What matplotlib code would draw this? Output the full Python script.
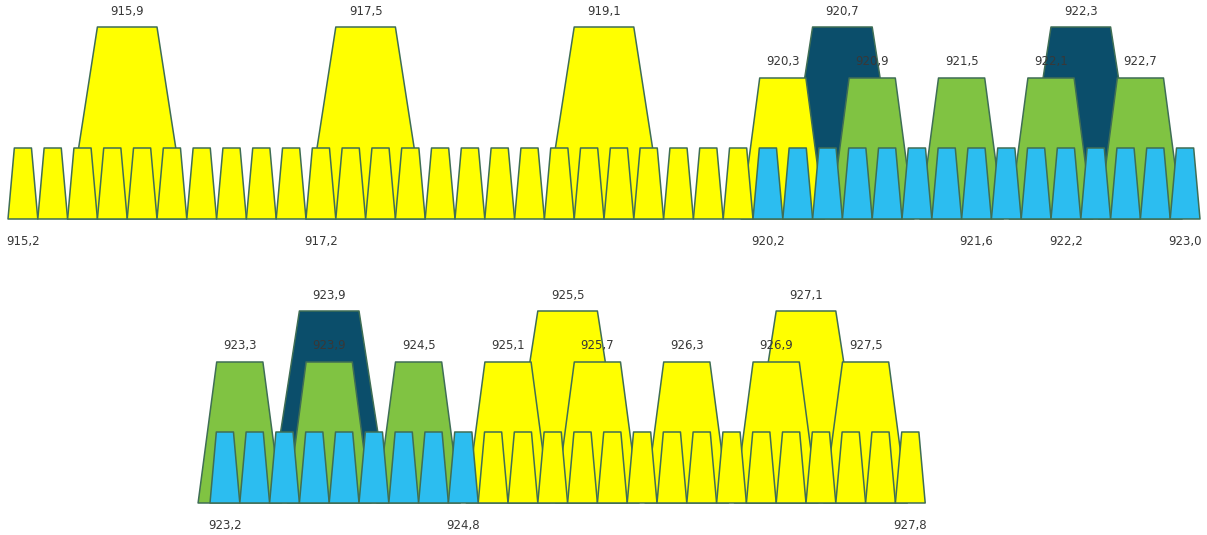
import matplotlib
matplotlib.use('Agg')
import matplotlib.pyplot as plt

# channel centre frequencies in MHz
narrow_yellow_low = [915.2, 915.4, 915.6, 915.8, 916.0, 916.2, 916.4, 916.6, 916.8, 917.0,
                     917.2, 917.4, 917.6, 917.8, 918.0, 918.2, 918.4, 918.6, 918.8, 919.0,
                     919.2, 919.4, 919.6, 919.8, 920.0]
narrow_blue = [920.2, 920.4, 920.6, 920.8, 921.0, 921.2, 921.4, 921.6, 921.8, 922.0,
               922.2, 922.4, 922.6, 922.8, 923.0, 923.2, 923.4, 923.6, 923.8, 924.0,
               924.2, 924.4, 924.6, 924.8]
narrow_yellow_high = [925.0, 925.2, 925.4, 925.6, 925.8, 926.0, 926.2, 926.4, 926.6, 926.8,
                      927.0, 927.2, 927.4, 927.6, 927.8]
mid_yellow = [920.3, 925.1, 925.7, 926.3, 926.9, 927.5]
mid_green = [920.9, 921.5, 922.1, 922.7, 923.3, 923.9, 924.5]
wide_yellow = [915.9, 917.5, 919.1, 925.5, 927.1]
wide_navy = [920.7, 922.3, 923.9]
narrow_labels = [915.2, 917.2, 920.2, 921.6, 922.2, 923.0, 923.2, 924.8, 927.8]
row_split = 923.1

YELLOW = '#FFFF00'
BLUE = '#2CBDF0'
GREEN = '#80C342'
NAVY = '#0B4E6B'
EDGE = '#3F6E55'
TEXT = '#383838'

# (bottom width, top width, height)
NARROW = (0.2, 0.115, 0.71)
MID = (0.56, 0.31, 1.41)
WIDE = (0.8, 0.4, 1.92)


def fmt(f):
    return f'{f:.1f}'.replace('.', ',')


def trapezoid(ax, f, shape, color, z):
    wb, wt, h = shape
    xs = [f - wb / 2, f - wt / 2, f + wt / 2, f + wb / 2]
    ys = [0, h, h, 0]
    ax.fill(xs, ys, facecolor=color, edgecolor=EDGE, linewidth=1.1,
            joinstyle='round', zorder=z)


def draw_row(ax, lo, hi):
    def inrow(fs):
        return [f for f in fs if lo < f < hi]

    for f in inrow(wide_yellow):
        trapezoid(ax, f, WIDE, YELLOW, 1)
    for f in inrow(wide_navy):
        trapezoid(ax, f, WIDE, NAVY, 1)
    for f in inrow(mid_yellow):
        trapezoid(ax, f, MID, YELLOW, 2)
    for f in inrow(mid_green):
        trapezoid(ax, f, MID, GREEN, 2)
    for f in inrow(narrow_yellow_low) + inrow(narrow_yellow_high):
        trapezoid(ax, f, NARROW, YELLOW, 3)
    for f in inrow(narrow_blue):
        trapezoid(ax, f, NARROW, BLUE, 3)

    for f in inrow(wide_yellow + wide_navy):
        ax.text(f, WIDE[2] + 0.16, fmt(f), ha='center', va='center',
                fontsize=8.5, color=TEXT, zorder=5)
    for f in inrow(mid_yellow + mid_green):
        ax.text(f, MID[2] + 0.17, fmt(f), ha='center', va='center',
                fontsize=8.5, color=TEXT, zorder=5)
    for f in inrow(narrow_labels):
        ax.text(f, -0.22, fmt(f), ha='center', va='center',
                fontsize=8.5, color=TEXT, zorder=5)
    ax.axis('off')


def main():
    fig = plt.figure(figsize=(12.07, 5.35), dpi=100)
    scale = 149.0  # px per MHz

    ax1 = fig.add_axes([0, 1 - 267 / 535, 1, 267 / 535])
    left1 = 915.1 - 8 / scale
    ax1.set_xlim(left1, left1 + 1207 / scale)
    ax1.set_ylim(-0.48, 2.19)
    draw_row(ax1, 915.0, row_split)

    ax2 = fig.add_axes([0, 0, 1, 268 / 535])
    left2 = row_split - 210 / scale
    ax2.set_xlim(left2, left2 + 1207 / scale)
    ax2.set_ylim(-0.32, 2.36)
    draw_row(ax2, row_split, 928.0)

    fig.savefig('out.png', dpi=100)


if __name__ == '__main__':
    main()
